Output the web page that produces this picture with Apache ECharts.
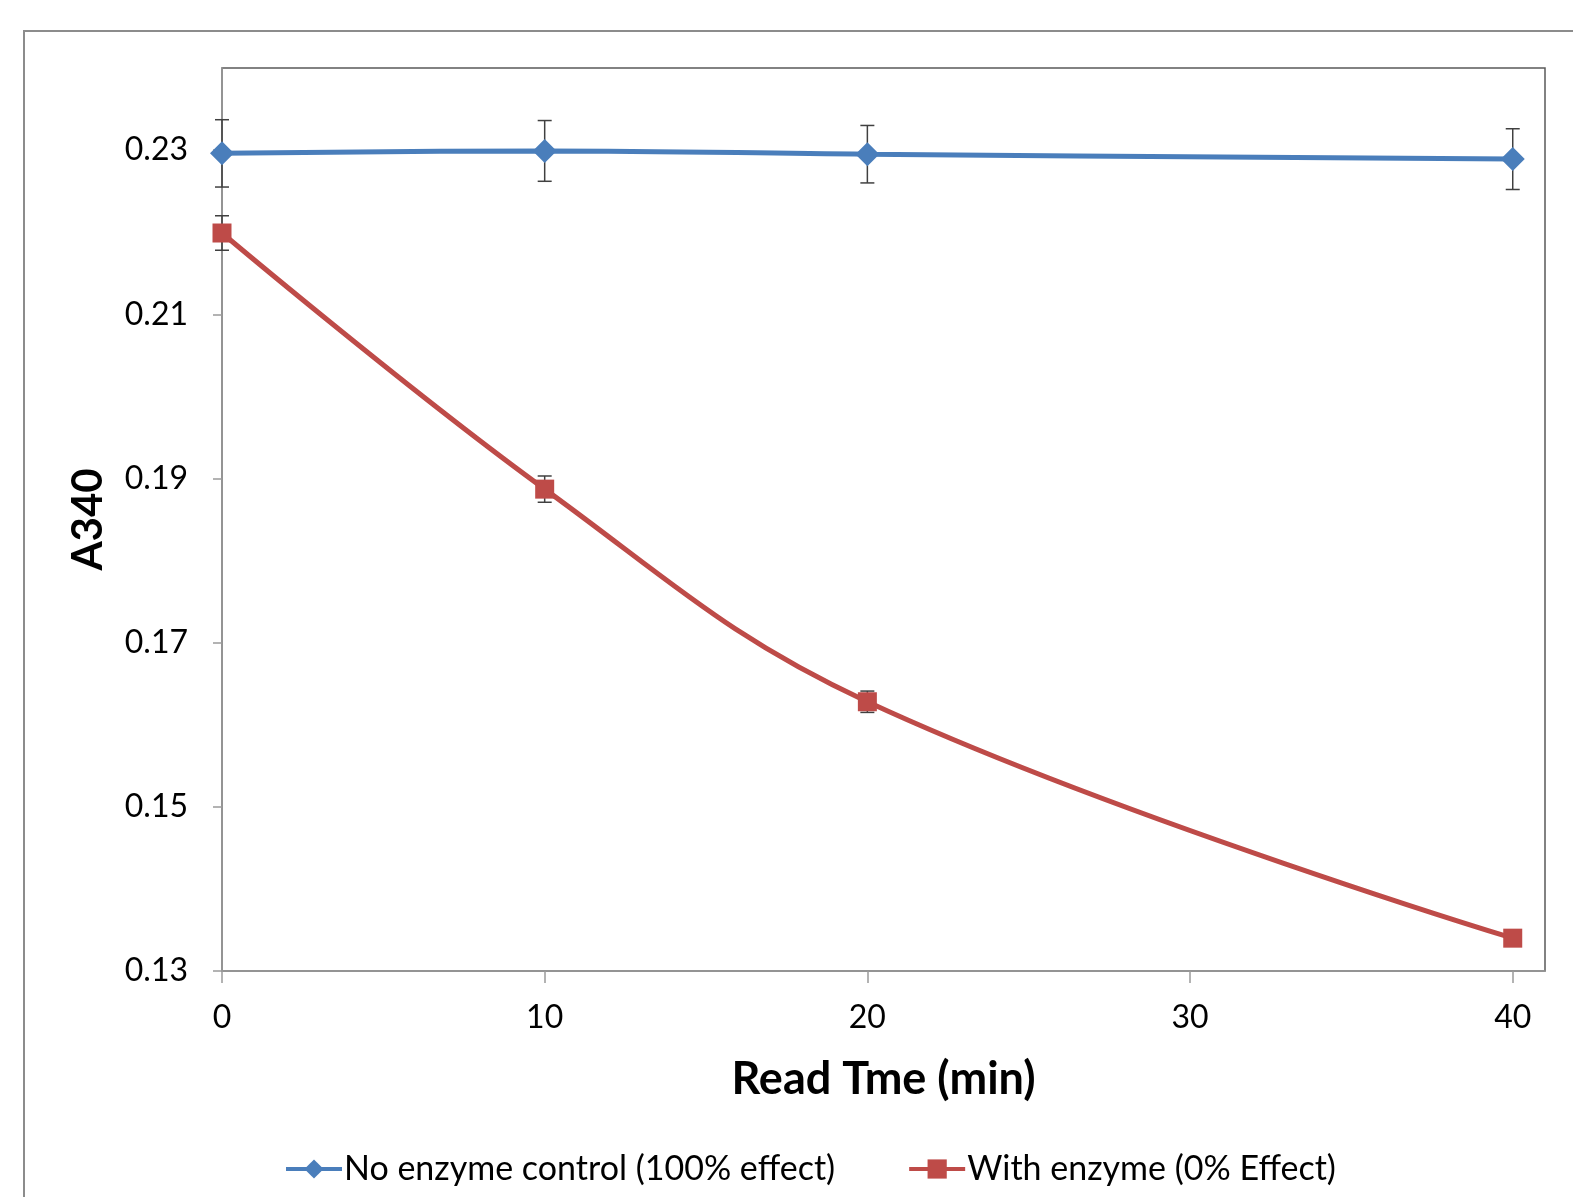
<!DOCTYPE html>
<html><head><meta charset="utf-8">
<script src="https://cdn.jsdelivr.net/npm/echarts@6/dist/echarts.min.js"></script>
<style>html,body{margin:0;padding:0;background:#fff}#c{width:1573px;height:1197px}</style>
</head><body><div id="c"></div>
<script>
const times = [0, 10, 20, 40];
const noEnzyme = [0.2296, 0.2299, 0.2295, 0.2289];
const noEnzymeErr = [0.0041, 0.0037, 0.0035, 0.0037];
const withEnzyme = [0.2199, 0.1887, 0.1628, 0.1340];
const withEnzymeErr = [0.0021, 0.0016, 0.0013, 0.0004];
const seriesNames = ['No enzyme control (100% effect)', 'With enzyme (0% Effect)'];
const xTitle = 'Read Tme (min)';
const yTitle = 'A340';

const FONT = 'Lato, "Open Sans", sans-serif';
const BLUE = '#4a7ebb', RED = '#be4b48';

function errData(vals, errs) {
  return times.map((t, i) => [t, vals[i] - errs[i], vals[i] + errs[i]]);
}
function errSeries(vals, errs) {
  return {
    type: 'custom', z: 1, silent: true,
    data: errData(vals, errs),
    renderItem: function (params, api) {
      const lo = api.coord([api.value(0), api.value(1)]);
      const hi = api.coord([api.value(0), api.value(2)]);
      const w = 7;
      const st = { stroke: '#404040', lineWidth: 1.5 };
      return { type: 'group', children: [
        { type: 'line', shape: { x1: lo[0], y1: lo[1], x2: hi[0], y2: hi[1] }, style: st },
        { type: 'line', shape: { x1: lo[0] - w, y1: lo[1], x2: lo[0] + w, y2: lo[1] }, style: st },
        { type: 'line', shape: { x1: hi[0] - w, y1: hi[1], x2: hi[0] + w, y2: hi[1] }, style: st }
      ]};
    }
  };
}

const chart = echarts.init(document.getElementById('c'));
chart.setOption({
  animation: false,
  backgroundColor: '#fff',
  graphic: [{
    type: 'rect', shape: { x: 24, y: 31, width: 1600, height: 1200 },
    style: { fill: 'none', stroke: '#8c8c8c', lineWidth: 2 }, z: -10
  }],
  grid: { left: 222, right: 28, top: 68, bottom: 226, show: true, borderColor: '#595959', borderWidth: 1.5 },
  legend: {
    bottom: 6, left: 279, itemGap: 72, itemWidth: 56, itemHeight: 24,
    lineStyle: { width: 4 },
    textStyle: { fontFamily: FONT, fontSize: 34, color: '#000', padding: [0, 0, 0, -3] },
    data: [seriesNames[0], seriesNames[1]]
  },
  xAxis: {
    type: 'value', min: 0, max: 41, interval: 10,
    name: xTitle, nameLocation: 'middle', nameGap: 86,
    nameTextStyle: { fontFamily: FONT, fontSize: 45, fontWeight: 'bold', color: '#000' },
    axisLine: { show: true, lineStyle: { color: '#9a9a9a', width: 1.5 } },
    axisTick: { show: true, length: 12, lineStyle: { color: '#9a9a9a', width: 1.5 } },
    axisLabel: { fontFamily: FONT, fontSize: 32, color: '#000', margin: 31, showMaxLabel: false },
    splitLine: { show: false }
  },
  yAxis: {
    type: 'value', min: 0.13, max: 0.24, interval: 0.02,
    name: yTitle, nameLocation: 'middle', nameGap: 113, nameRotate: 90,
    nameTextStyle: { fontFamily: FONT, fontSize: 42, fontWeight: 'bold', color: '#000' },
    axisLine: { show: true, lineStyle: { color: '#9a9a9a', width: 1.5 } },
    axisTick: { show: true, length: 9, lineStyle: { color: '#9a9a9a', width: 1.5 } },
    axisLabel: { fontFamily: FONT, fontSize: 32, color: '#000', margin: 34, showMaxLabel: false,
      formatter: v => v.toFixed(2) },
    splitLine: { show: false }
  },
  series: [
    errSeries(noEnzyme, noEnzymeErr),
    errSeries(withEnzyme, withEnzymeErr),
    {
      name: seriesNames[0], type: 'line', z: 3,
      data: times.map((t, i) => [t, noEnzyme[i]]),
      smooth: 0.4, symbol: 'diamond', symbolSize: 24,
      lineStyle: { color: BLUE, width: 5 }, itemStyle: { color: BLUE }
    },
    {
      name: seriesNames[1], type: 'line', z: 3,
      data: times.map((t, i) => [t, withEnzyme[i]]),
      smooth: 0.4, symbol: 'rect', symbolSize: 19,
      lineStyle: { color: RED, width: 5 }, itemStyle: { color: RED }
    }
  ]
});
</script></body></html>
